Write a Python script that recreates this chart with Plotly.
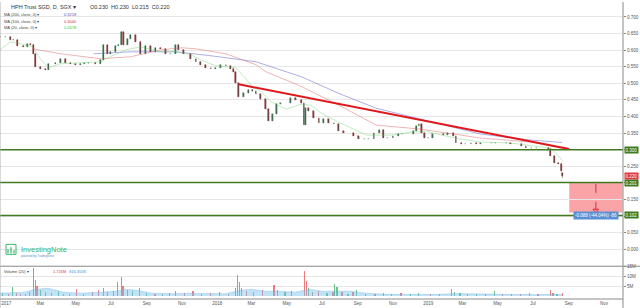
import plotly.graph_objects as go

# ---------------- data ----------------
price_dates = [
    "2016-12-22","2016-12-30","2017-01-08","2017-01-13","2017-01-20","2017-01-30","2017-02-06","2017-02-12",
    "2017-02-17","2017-02-20","2017-03-01","2017-03-10","2017-03-15","2017-03-27","2017-04-05","2017-04-13",
    "2017-04-22","2017-05-01","2017-05-09","2017-05-16","2017-05-23","2017-06-04","2017-06-13","2017-06-18",
    "2017-06-25","2017-06-30","2017-07-09","2017-07-14","2017-07-19","2017-07-23","2017-07-30","2017-08-04",
    "2017-08-13","2017-08-21","2017-08-30","2017-09-08","2017-09-16","2017-09-25","2017-10-04","2017-10-12",
    "2017-10-21","2017-10-26","2017-11-04","2017-11-16","2017-11-25","2017-12-03","2017-12-12","2017-12-21",
    "2017-12-29","2018-01-07","2018-01-16","2018-01-24","2018-01-29","2018-02-02","2018-02-07","2018-02-16",
    "2018-02-24","2018-03-03","2018-03-09","2018-03-17","2018-03-26","2018-03-31","2018-04-07","2018-04-14",
    "2018-04-21","2018-04-30","2018-05-08","2018-05-17","2018-05-26","2018-05-31","2018-06-03","2018-06-08",
    "2018-06-17","2018-06-26","2018-07-04","2018-07-13","2018-07-22","2018-07-30","2018-08-08","2018-08-17",
    "2018-08-25","2018-09-03","2018-09-12","2018-09-20","2018-09-29","2018-10-08","2018-10-15","2018-10-23",
    "2018-11-01","2018-11-10","2018-11-18","2018-11-27","2018-12-06","2018-12-11","2018-12-16","2018-12-21",
    "2018-12-26","2019-01-02","2019-01-09","2019-01-18","2019-01-27","2019-02-04","2019-02-13","2019-02-18",
    "2019-02-27","2019-03-07","2019-03-16","2019-03-25","2019-04-02","2019-04-11","2019-04-20","2019-04-28",
    "2019-05-07","2019-05-16","2019-05-24","2019-06-02","2019-06-11","2019-06-19","2019-06-28","2019-07-07",
    "2019-07-15","2019-07-22","2019-07-28","2019-07-31","2019-08-07","2019-08-14","2019-08-19","2019-08-21",
]
price_close = [
    0.640,0.640,0.632,0.631,0.613,0.610,0.618,0.616,
    0.589,0.550,0.544,0.541,0.559,0.562,0.574,0.562,
    0.559,0.556,0.559,0.560,0.562,0.559,0.571,0.616,
    0.589,0.595,0.613,0.616,0.655,0.616,0.634,0.646,
    0.625,0.589,0.613,0.595,0.607,0.604,0.589,0.589,
    0.616,0.601,0.589,0.574,0.565,0.556,0.547,0.544,
    0.547,0.556,0.553,0.544,0.535,0.500,0.460,0.470,
    0.481,0.476,0.467,0.452,0.422,0.386,0.407,0.437,
    0.440,0.440,0.455,0.449,0.440,0.374,0.425,0.416,
    0.395,0.380,0.392,0.380,0.377,0.356,0.350,0.350,
    0.341,0.332,0.332,0.332,0.350,0.359,0.335,0.335,
    0.341,0.347,0.347,0.347,0.356,0.371,0.377,0.350,
    0.335,0.335,0.347,0.347,0.344,0.350,0.341,0.320,
    0.317,0.317,0.320,0.317,0.320,0.320,0.320,0.320,
    0.320,0.320,0.317,0.317,0.311,0.305,0.305,0.305,
    0.305,0.305,0.302,0.281,0.260,0.258,0.235,0.220,
]
last_ohlc = [0.230, 0.230, 0.215, 0.220]  # O H L C of the last bar

ma200_dates = ["2017-06-01","2017-08-04","2017-10-21","2017-12-21","2018-03-09","2018-05-26","2018-08-03",
               "2018-10-03","2018-12-19","2019-04-02","2019-06-28","2019-08-21"]
ma200_vals = [0.589,0.595,0.595,0.583,0.565,0.520,0.467,0.425,0.392,0.347,0.329,0.3218]

ma100_dates = ["2017-02-15","2017-04-05","2017-06-13","2017-08-04","2017-09-25","2017-11-02","2017-11-25",
               "2018-01-16","2018-03-09","2018-03-26","2018-05-26","2018-08-03","2018-10-03","2018-12-19",
               "2019-04-02","2019-06-28","2019-08-21"]
ma100_vals = [0.604,0.589,0.574,0.580,0.601,0.607,0.604,0.589,0.556,0.535,0.491,0.431,0.374,0.362,
              0.335,0.323,0.304]

ma20_dates = ["2016-12-21","2017-01-08","2017-01-25","2017-02-15","2017-03-01","2017-03-15","2017-04-05",
              "2017-05-01","2017-06-13","2017-06-30","2017-07-27","2017-08-21","2017-09-25","2017-10-21",
              "2017-11-16","2017-12-03","2017-12-29","2018-02-02","2018-02-19","2018-03-03","2018-03-17",
              "2018-04-03","2018-04-30","2018-05-26","2018-06-12","2018-06-30","2018-07-26","2018-08-21",
              "2018-09-16","2018-10-29","2018-12-03","2018-12-29","2019-01-24","2019-02-27","2019-04-02",
              "2019-05-24","2019-07-15","2019-08-01","2019-08-21"]
ma20_vals = [0.601,0.625,0.619,0.610,0.574,0.547,0.559,0.562,0.565,0.580,0.601,0.610,0.595,0.595,
             0.586,0.571,0.553,0.547,0.515,0.488,0.476,0.446,0.422,0.437,0.434,0.410,0.386,0.365,
             0.344,0.344,0.353,0.356,0.344,0.332,0.323,0.320,0.308,0.305,0.2678]

trend_dates = ["2018-02-07", "2019-09-02"]
trend_prices = [0.497, 0.302]

levels = [0.300, 0.201, 0.102]
level_labels = ["0.300", "0.201", "0.102"]
last_price_label = "0.220"

target_box = {"start": "2019-09-02", "end": "2019-12-03", "top": 0.201, "bottom": 0.111}
arrow_date = "2019-10-18"
measure_text = "-0.088 (-44.04%) -86"

vol_dates = [
    "2016-12-25","2017-01-05","2017-01-12","2017-01-18","2017-01-26","2017-02-03","2017-02-10","2017-02-17",
    "2017-02-20","2017-02-23","2017-03-01","2017-03-10","2017-03-20","2017-04-01","2017-04-10","2017-04-20",
    "2017-05-02","2017-05-15","2017-05-30","2017-06-10","2017-06-18","2017-06-25","2017-07-05","2017-07-12",
    "2017-07-19","2017-07-22","2017-07-30","2017-08-07","2017-08-20","2017-09-01","2017-09-15","2017-09-28",
    "2017-10-10","2017-10-21","2017-11-05","2017-11-20","2017-12-05","2017-12-20","2018-01-05","2018-01-20",
    "2018-02-02","2018-02-05","2018-02-08","2018-02-12","2018-02-20","2018-03-05","2018-03-20","2018-04-09",
    "2018-04-15","2018-04-28","2018-05-10","2018-06-01","2018-06-04","2018-06-08","2018-06-15","2018-06-25",
    "2018-07-10","2018-07-20","2018-07-23","2018-07-27","2018-08-05","2018-08-15","2018-08-24","2018-08-30",
    "2018-09-15","2018-10-01","2018-10-15","2018-10-30","2018-11-15","2018-12-01","2018-12-15","2019-01-05",
    "2019-01-20","2019-02-10","2019-02-15","2019-02-25","2019-03-10","2019-03-25","2019-04-10","2019-04-26",
    "2019-05-10","2019-05-25","2019-06-10","2019-06-25","2019-07-10","2019-07-31","2019-08-05","2019-08-12",
    "2019-08-21",
]
vol_values = [
    1.5,1.0,4.7,1.5,1.2,1.0,2.0,14.5,
    8.0,5.0,3.0,2.0,1.5,2.5,1.2,1.0,
    3.5,1.0,2.0,3.0,4.0,2.0,2.5,7.3,
    9.7,5.0,3.0,2.5,4.0,1.5,1.0,1.2,
    1.5,2.5,1.5,2.5,1.0,1.5,2.0,1.2,
    4.0,10.7,7.0,4.0,2.5,2.0,3.0,5.6,
    3.0,2.0,2.5,12.9,7.5,4.0,2.0,2.5,
    1.5,2.0,6.0,4.5,2.0,1.0,2.0,3.0,
    1.0,1.0,1.5,1.2,1.5,1.0,1.3,1.0,
    1.0,3.5,2.0,1.5,1.0,1.2,0.8,2.7,
    1.0,0.8,1.0,1.5,0.8,3.0,1.5,1.0,
    1.5,
]
vol_up = [
    1,0,1,0,0,1,0,0,
    0,0,1,0,1,1,0,1,
    0,1,0,0,1,0,1,1,
    1,0,0,1,0,1,0,1,
    0,1,0,0,1,0,1,0,
    0,0,0,1,0,1,0,0,
    1,1,0,0,0,1,0,0,
    1,0,1,1,0,1,0,1,
    1,0,1,1,0,1,1,0,
    1,0,1,1,0,1,0,1,
    0,1,0,1,0,0,0,1,
    0,
]
volma_dates = ["2016-12-21","2017-01-10","2017-02-01","2017-02-20","2017-03-15","2017-04-10","2017-05-10",
               "2017-06-10","2017-07-10","2017-07-25","2017-08-15","2017-09-10","2017-10-15","2017-11-15",
               "2017-12-15","2018-01-15","2018-02-10","2018-03-01","2018-03-25","2018-04-20","2018-05-15",
               "2018-06-10","2018-07-01","2018-07-30","2018-08-20","2018-09-15","2018-10-15","2018-11-15",
               "2018-12-15","2019-01-15","2019-02-15","2019-03-10","2019-04-10","2019-05-10","2019-06-10",
               "2019-07-10","2019-08-05","2019-08-21"]
volma_vals = [1.5,1.8,2.0,3.5,4.0,2.0,1.5,2.0,2.5,3.5,3.0,1.5,1.2,1.5,1.2,1.2,3.0,3.5,2.5,2.5,2.0,
              3.5,2.5,2.5,2.5,1.5,1.0,0.9,0.9,0.8,1.3,1.2,0.9,1.0,0.8,0.7,1.0,0.8]

month_ticks = ["2017-01-01","2017-03-01","2017-05-01","2017-07-01","2017-09-01","2017-11-01",
               "2018-01-01","2018-03-01","2018-05-01","2018-07-01","2018-09-01","2018-11-01",
               "2019-01-01","2019-03-01","2019-05-01","2019-07-01","2019-09-01","2019-11-01"]
month_labels = ["2017","Mar","May","Jul","Sep","Nov","2018","Mar","May","Jul","Sep","Nov",
                "2019","Mar","May","Jul","Sep","Nov"]
price_ticks = [0.0,0.05,0.10,0.15,0.20,0.25,0.30,0.35,0.40,0.45,0.50,0.55,0.60,0.65,0.70]
vol_ticks = [5e6, 10e6, 15e6]
vol_tick_labels = ["5M", "10M", "15M"]

# ---------------- figure ----------------
W, H = 640, 308
ML, MR, MT, MB = 0, 17, 0, 9
PW, PH = W - ML - MR, H - MT - MB
SPLIT = 266  # pixel row of pane separator
DAY_MS = 86400000


def px(xp):
    return xp / PW


def py(yp):
    return (PH - yp) / PH


opens = [price_close[0]] + price_close[:-1]
opens[-1] = last_ohlc[0]
highs = [max(o, c) for o, c in zip(opens, price_close)]
lows = [min(o, c) for o, c in zip(opens, price_close)]
highs[-1] = last_ohlc[1]
lows[-1] = last_ohlc[2]

UP_COL, DN_COL = "#2c7a47", "#8a2222"
body_base = [min(o, c) for o, c in zip(opens, price_close)]
body_h = [abs(c - o) for o, c in zip(opens, price_close)]
body_col = [UP_COL if c >= o else DN_COL for o, c in zip(opens, price_close)]

wick_x, wick_y = [], []
for d, h, l in zip(price_dates, highs, lows):
    wick_x += [d, d, None]
    wick_y += [l, h, None]

FONT = "Liberation Sans"
fig = go.Figure()

fig.add_trace(go.Scatter(x=ma200_dates, y=ma200_vals, mode="lines", line=dict(color="rgba(120,120,215,0.6)", width=1),
                         xaxis="x", yaxis="y", hoverinfo="skip"))
fig.add_trace(go.Scatter(x=ma100_dates, y=ma100_vals, mode="lines", line=dict(color="rgba(225,120,120,0.55)", width=1),
                         xaxis="x", yaxis="y", hoverinfo="skip"))
fig.add_trace(go.Scatter(x=ma20_dates, y=ma20_vals, mode="lines", line=dict(color="rgba(120,215,120,0.6)", width=0.8),
                         xaxis="x", yaxis="y", hoverinfo="skip"))

# candles
fig.add_trace(go.Scatter(x=wick_x, y=wick_y, mode="lines", line=dict(color="#444", width=0.6),
                         xaxis="x", yaxis="y", hoverinfo="skip"))
fig.add_trace(go.Bar(x=price_dates, y=body_h, base=body_base, width=DAY_MS * 1.4,
                     marker=dict(color=body_col, line=dict(color=body_col, width=0.5)),
                     xaxis="x", yaxis="y", hoverinfo="skip"))

fig.add_trace(go.Scatter(x=trend_dates, y=trend_prices, mode="lines", line=dict(color="#e0161b", width=2),
                         xaxis="x", yaxis="y", hoverinfo="skip"))

# arrow of measurement
fig.add_trace(go.Scatter(x=[arrow_date, arrow_date], y=[target_box["top"] - 0.004, target_box["bottom"] + 0.006],
                         mode="lines", line=dict(color="#d9303a", width=1, dash="dash"),
                         xaxis="x", yaxis="y", hoverinfo="skip"))
fig.add_trace(go.Scatter(x=[arrow_date], y=[target_box["bottom"] + 0.006], mode="markers",
                         marker=dict(symbol="triangle-down-open", size=5, color="#d9303a", line=dict(width=1)),
                         xaxis="x", yaxis="y", hoverinfo="skip"))

# volume
fig.add_trace(go.Scatter(x=volma_dates, y=[v * 1e6 for v in volma_vals], mode="lines", fill="tozeroy",
                         line=dict(color="rgba(90,170,230,0.6)", width=0.5), fillcolor="rgba(120,190,235,0.45)",
                         xaxis="x2", yaxis="y2", hoverinfo="skip"))
fig.add_trace(go.Bar(x=vol_dates, y=[v * 1e6 for v in vol_values],
                     marker=dict(color=["rgba(60,170,90,0.75)" if u else "rgba(235,80,80,0.75)" for u in vol_up],
                                 line=dict(width=0)),
                     width=DAY_MS * 2.2, xaxis="x2", yaxis="y2", hoverinfo="skip"))

shapes = []
for lv in levels:
    shapes.append(dict(type="line", xref="paper", x0=0, x1=1, yref="y", y0=lv, y1=lv,
                       line=dict(color="#3f7a1f", width=1.5), layer="above"))
shapes.append(dict(type="rect", xref="x", x0=target_box["start"], x1=target_box["end"], yref="y",
                   y0=target_box["bottom"], y1=target_box["top"], fillcolor="rgba(245,90,95,0.55)",
                   line=dict(width=0), layer="below"))
# pane separators / frame
shapes.append(dict(type="line", xref="paper", yref="paper", x0=0, x1=1 + 17 / PW, y0=py(SPLIT), y1=py(SPLIT),
                   line=dict(color="#8a8a8a", width=1)))
shapes.append(dict(type="line", xref="paper", yref="paper", x0=0, x1=1, y0=0, y1=0,
                   line=dict(color="#8a8a8a", width=1)))
shapes.append(dict(type="line", xref="paper", yref="paper", x0=1, x1=1, y0=-9 / PH, y1=1,
                   line=dict(color="#8a8a8a", width=1)))
shapes.append(dict(type="line", xref="paper", yref="paper", x0=0, x1=0, y0=-9 / PH, y1=1,
                   line=dict(color="#b0b0b0", width=1)))

ann = []
# right-axis price labels
for lv, lab in zip(levels, level_labels):
    ann.append(dict(xref="paper", x=1.002, xanchor="left", yref="y", y=lv, text=lab, showarrow=False,
                    font=dict(family=FONT, size=4.5, color="white"), bgcolor="#3f7a1f", borderpad=0.5))
ann.append(dict(xref="paper", x=1.002, xanchor="left", yref="y", y=price_close[-1], text=last_price_label,
                showarrow=False, font=dict(family=FONT, size=4.5, color="white"), bgcolor="#e0393e", borderpad=0.5))
ann.append(dict(xref="x", x=arrow_date, yref="paper", y=py(219), text=measure_text, showarrow=False,
                font=dict(family=FONT, size=4.5, color="white"), bgcolor="#5b8fd3", borderpad=1))

# header
ann.append(dict(xref="paper", yref="paper", x=px(9), y=py(5), xanchor="left", yanchor="middle",
                text="HPH Trust SGD, D, SGX \u25be", showarrow=False, font=dict(family=FONT, size=5.5, color="#333")))
ann.append(dict(xref="paper", yref="paper", x=px(88), y=py(5), xanchor="left", yanchor="middle",
                text="O0.230  H0.230  L0.215  C0.220", showarrow=False,
                font=dict(family=FONT, size=5.5, color="#333")))
ma_rows = [("MA (200, close, 0) \u25be", "0.3218", "#3f51b5", 13),
           ("MA (100, close, 0) \u25be", "0.3040", "#d32f2f", 19.5),
           ("MA (20, close, 0) \u25be", "0.2678", "#2fbf3f", 26)]
for name, val, col, yy in ma_rows:
    ann.append(dict(xref="paper", yref="paper", x=px(2), y=py(yy), xanchor="left", yanchor="middle",
                    text=name, showarrow=False, font=dict(family=FONT, size=4, color="#444")))
    ann.append(dict(xref="paper", yref="paper", x=px(62), y=py(yy), xanchor="left", yanchor="middle",
                    text=val, showarrow=False, font=dict(family=FONT, size=4, color=col)))
# volume legend
ann.append(dict(xref="paper", yref="paper", x=px(2), y=py(271), xanchor="left", yanchor="middle",
                text="Volume (20) \u25be", showarrow=False, font=dict(family=FONT, size=4, color="#444")))
ann.append(dict(xref="paper", yref="paper", x=px(51), y=py(271), xanchor="left", yanchor="middle",
                text="1.726M", showarrow=False, font=dict(family=FONT, size=4, color="#e04040")))
ann.append(dict(xref="paper", yref="paper", x=px(67), y=py(271), xanchor="left", yanchor="middle",
                text="816.355K", showarrow=False, font=dict(family=FONT, size=4, color="#3d8fd0")))
# logo
ann.append(dict(xref="paper", yref="paper", x=px(19), y=py(249), xanchor="left", yanchor="middle",
                text="InvestingNote", showarrow=False, font=dict(family=FONT, size=7.5, color="#35b46b")))
ann.append(dict(xref="paper", yref="paper", x=px(19), y=py(256), xanchor="left", yanchor="middle",
                text="powered by TradingView", showarrow=False, font=dict(family=FONT, size=3, color="#5a8fc0")))
shapes.append(dict(type="rect", xref="paper", yref="paper", x0=px(6), x1=px(16), y0=py(254), y1=py(244),
                   line=dict(color="#35b46b", width=1), fillcolor="rgba(0,0,0,0)"))
for bx, bh in [(8, 4), (11, 6), (14, 3)]:
    shapes.append(dict(type="line", xref="paper", yref="paper", x0=px(bx), x1=px(bx), y0=py(253), y1=py(253 - bh),
                       line=dict(color="#35b46b", width=1.2)))

price_range = [-0.051, 0.745]
vol_range = [-1.5e6, 15.3e6]

fig.update_layout(
    width=W, height=H, margin=dict(l=ML, r=MR, t=MT, b=MB),
    paper_bgcolor="white", plot_bgcolor="white", showlegend=False,
    font=dict(family=FONT, size=4.5, color="#555"),
    xaxis=dict(domain=[0, 1], anchor="y", type="date", range=["2016-12-21", "2019-12-04"],
               showticklabels=False, showgrid=False, zeroline=False),
    xaxis2=dict(domain=[0, 1], anchor="y2", type="date", matches="x", range=["2016-12-21", "2019-12-04"],
                tickvals=month_ticks, ticktext=month_labels, ticks="", showgrid=False, zeroline=False,
                tickfont=dict(family=FONT, size=4.5, color="#555")),
    yaxis=dict(domain=[py(SPLIT), 1], anchor="x", side="right", range=price_range,
               tickvals=price_ticks, ticktext=["%.3f" % t for t in price_ticks],
               ticks="outside", ticklen=2, tickcolor="#888", showgrid=True, gridcolor="#e6e6e6", gridwidth=1,
               zeroline=False, tickfont=dict(family=FONT, size=4.5, color="#555")),
    yaxis2=dict(domain=[0, py(SPLIT)], anchor="x2", side="right", range=vol_range,
                tickvals=vol_ticks, ticktext=vol_tick_labels, ticks="outside", ticklen=2, tickcolor="#888",
                showgrid=True, gridcolor="#e6e6e6", zeroline=False, tickfont=dict(family=FONT, size=4.5, color="#555")),
    shapes=shapes, annotations=ann, bargap=0,
)

fig.write_html("out.html")
